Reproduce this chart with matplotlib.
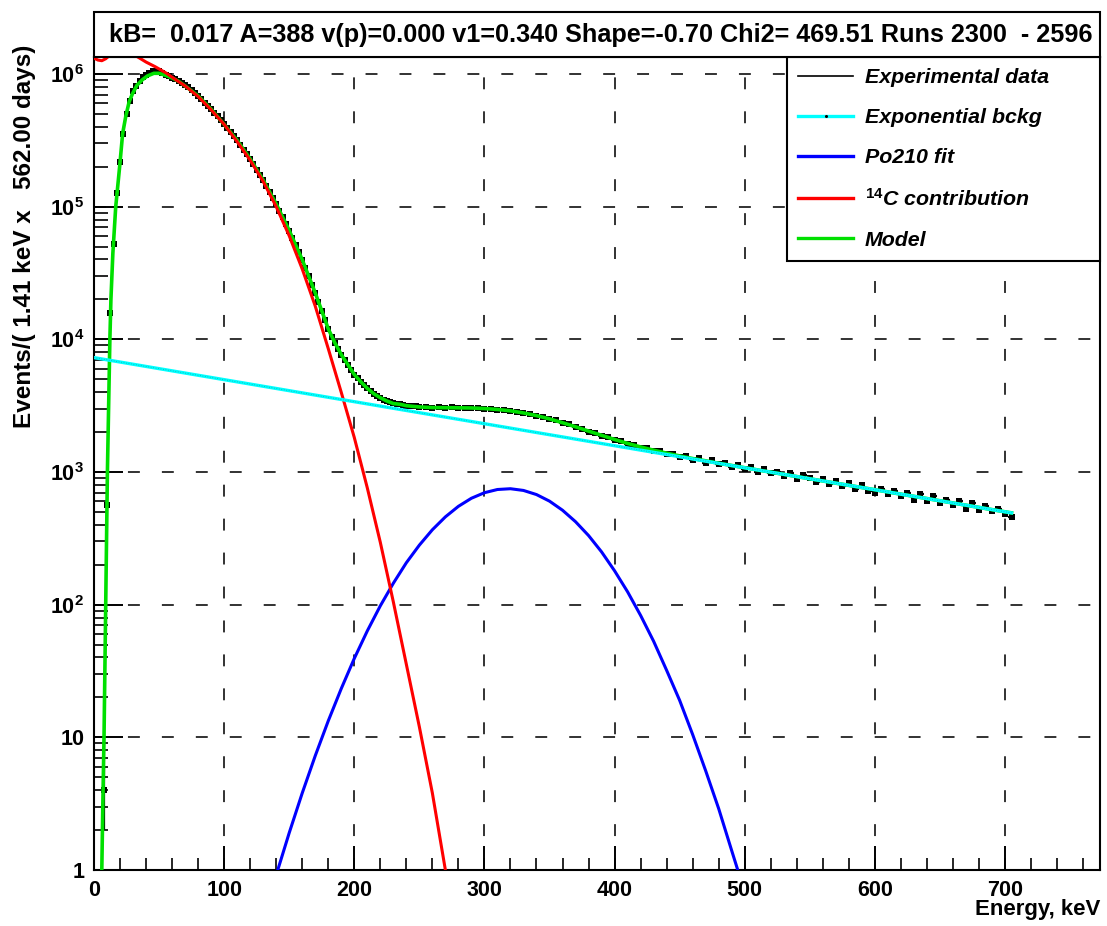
"""
c14_spectrum.py - energy spectrum with the 14C / Po210 / background fit components.
"""

import numpy as np
import matplotlib
matplotlib.use("Agg")
import matplotlib.pyplot as plt
from matplotlib import font_manager
from matplotlib.lines import Line2D
from matplotlib.patches import Rectangle
from matplotlib.ticker import MultipleLocator, LogLocator, NullFormatter


# ─── Data ─────────────────────────────────────────────────────────────────────

# experimental spectrum: fine bins up to 250 keV, coarser bins above
DATA_E_LOW = np.arange(7.5, 250.01, 2.5)
DATA_N_LOW = [
    4, 562, 15850, 52480, 125900, 218800, 354800, 501200, 631000, 741300,
    812800, 891300, 944100, 988600, 1023300, 1047100, 1059300, 1047100, 1023300, 988600,
    966100, 933300, 912000, 881000, 851100, 822400, 794300, 758600, 724400, 683900,
    645700, 609500, 575400, 543300, 507000, 478600, 446700, 416900, 389000, 363100,
    338800, 316200, 291700, 269200, 248300, 229100, 208900, 190500, 173800, 158500,
    142900, 128800, 116100, 104700, 93300, 83200, 74100, 66100, 58200, 51300,
    45200, 39800, 34700, 29900, 25700, 22400, 19050, 16400, 13960, 12020,
    10470, 9440, 8510, 7670, 7000, 6460, 5890, 5430, 5070, 4790,
    4520, 4270, 4070, 3890, 3760, 3630, 3510, 3430, 3370, 3310,
    3270, 3240, 3200, 3160, 3160, 3140, 3130, 3110,
]
DATA_E_HIGH = np.arange(255, 705.01, 5)
DATA_N_HIGH = [
    3085, 3045, 3070, 3030, 3065, 3025, 3050, 3015, 3035, 2990,
    2995, 2945, 2945, 2870, 2850, 2775, 2735, 2650, 2595, 2495,
    2445, 2335, 2285, 2175, 2125, 2015, 1980, 1870, 1845, 1740,
    1715, 1625, 1605, 1525, 1510, 1440, 1430, 1370, 1365, 1300,
    1320, 1235, 1270, 1175, 1225, 1140, 1165, 1085, 1135, 1050,
    1090, 1000, 1055, 975, 1005, 930, 980, 885, 950, 905,
    840, 880, 810, 855, 780, 825, 750, 800, 715, 690,
    750, 685, 720, 655, 700, 615, 680, 600, 655, 580,
    620, 565, 605, 530, 585, 520, 550, 505, 525, 480,
    455,
]

# exponential background
BKG_E = [0, 100, 200, 300, 400, 500, 600, 700, 705]
BKG_Y = [7280, 4966, 3388, 2312, 1578, 1076, 735, 501, 492]

# Po210 peak
PO_E = list(range(140, 501, 10))
PO_Y = [
    0.916, 1.905, 3.80, 7.26, 13.3, 23.3, 39.3, 63.4, 98.0, 145,
    207, 281, 367, 459, 551, 634, 698, 738, 748, 726,
    676, 603, 515, 422, 332, 250, 180, 125, 83, 53,
    32, 19, 10.5, 5.6, 2.9, 1.4, 0.68,
]

# 14C contribution
C14_E = [0, 3, 6, 9, 12, 16, 20, 25, 30, 35, 40, 47, 55, 63, 70, 80, 90, 100,
         110, 120, 130, 140, 150, 160, 170, 180, 190, 200, 210, 220, 230, 240,
         250, 260, 270, 276]
C14_Y = [1.318e6, 1.274e6, 1.259e6, 1.303e6, 1.380e6, 1.514e6, 1.585e6, 1.549e6,
         1.413e6, 1.318e6, 1.230e6, 1.135e6, 1.023e6, 9.02e5, 8.13e5, 6.76e5,
         5.37e5, 4.17e5, 3.09e5, 2.24e5, 1.55e5, 1.00e5, 6.03e4, 3.39e4, 1.78e4,
         8.51e3, 3.98e3, 1.82e3, 759, 295, 105, 35.5, 12.0, 3.80, 1.0, 0.45]

# full model
MODEL_E = [5.6, 6.0, 6.8, 7.7, 9.0, 10.3, 12.2, 13.0, 14.5, 16.7,
           19.7, 22, 24.4, 27, 29.5, 33, 37, 41, 46, 50,
           55, 60, 65, 70, 80, 90, 100, 110, 120, 130,
           140, 150, 160, 170, 180, 185, 190, 195, 200, 205,
           210, 215, 220, 225, 230, 235, 240, 250, 260, 270,
           280, 290, 300, 310, 320, 330, 340, 350, 360, 370,
           380, 390, 400, 410, 420, 430, 440, 450, 460, 470,
           480, 500, 550, 600, 650, 700, 705]
MODEL_Y = [0.6, 1.0, 3.2, 10, 100, 1000, 1.0e4, 2.0e4, 4.47e4, 1.0e5,
           2.0e5, 3.55e5, 4.79e5, 6.17e5, 7.08e5, 8.22e5, 9.02e5, 9.66e5, 1.012e6, 1.012e6,
           9.77e5, 9.33e5, 8.81e5, 8.13e5, 6.84e5, 5.43e5, 4.17e5, 3.16e5, 2.29e5, 1.585e5,
           1.047e5, 6.61e4, 3.98e4, 2.24e4, 1.20e4, 9440, 7670, 6460, 5430, 4790,
           4270, 3890, 3630, 3430, 3280, 3240, 3160, 3092, 3059, 3053,
           3046, 3038, 3010, 2961, 2891, 2787, 2662, 2513, 2352, 2192,
           2034, 1891, 1758, 1642, 1545, 1459, 1387, 1322, 1263, 1214,
           1164, 1077, 889, 735, 607, 501, 492]

X_TICKS = [0, 100, 200, 300, 400, 500, 600, 700]
Y_TICKS = [1, 10, 1e2, 1e3, 1e4, 1e5, 1e6]
Y_TICK_LABELS = ["1", "10"] + [r"$\mathbf{10^{%d}}$" % k for k in range(2, 7)]

LEGEND_LABELS = ["Experimental data", "Exponential bckg", "Po210 fit",
                 r"$^{\mathit{14}}$C contribution", "Model"]

TITLE = "kB=  0.017 A=388 v(p)=0.000 v1=0.340 Shape=-0.70 Chi2= 469.51 Runs 2300  - 2596"
Y_LABEL = "Events/( 1.41 keV x   562.00 days)"
X_LABEL = "Energy, keV"


# ─── Style ────────────────────────────────────────────────────────────────────

W, H, DPI = 1107, 926, 100
AX_L, AX_R, AX_T, AX_B = 94, 1100, 57, 870      # frame, in pixels
X_MAX, Y_MIN, Y_MAX = 773, 1, 1.343e6

RED, GREEN, BLUE, CYAN = "#ff0000", "#00e000", "#0000ff", "#00ffff"

_names = {f.name for f in font_manager.fontManager.ttflist}
WIDE = "Liberation Sans"
NARROW = "Liberation Sans Narrow" if "Liberation Sans Narrow" in _names else WIDE

plt.rcParams["font.family"] = [WIDE, "DejaVu Sans"]
plt.rcParams["mathtext.fontset"] = "custom"
plt.rcParams["mathtext.bf"] = f"{NARROW}:weight=bold"
plt.rcParams["mathtext.rm"] = f"{NARROW}:weight=bold"
plt.rcParams["mathtext.it"] = f"{WIDE}:style=italic:weight=bold"


def px_x(p):
    return p / W


def px_y(p):
    return 1 - p / H


# ─── Figure ───────────────────────────────────────────────────────────────────

fig = plt.figure(figsize=(W / DPI, H / DPI), dpi=DPI)
ax = fig.add_axes([px_x(AX_L), px_y(AX_B), (AX_R - AX_L) / W, (AX_B - AX_T) / H])

ax.set_yscale("log")
ax.set_xlim(0, X_MAX)
ax.set_ylim(Y_MIN, Y_MAX)

# data points with bin-width horizontal bars
for e, n, half in ((DATA_E_LOW, DATA_N_LOW, 1.25), (DATA_E_HIGH, DATA_N_HIGH, 2.5)):
    n = np.asarray(n, dtype=float)
    ax.errorbar(e, n, xerr=half, yerr=np.sqrt(n), fmt="s", ms=4.8, mew=0,
                color="black", ecolor="black", elinewidth=1.6, capsize=0, zorder=2)

ax.plot(MODEL_E, MODEL_Y, color=GREEN, lw=2.6, zorder=3)
ax.plot(PO_E, PO_Y, color=BLUE, lw=2.2, zorder=4)
ax.plot(C14_E, C14_Y, color=RED, lw=2.2, zorder=4)
ax.plot(BKG_E, BKG_Y, color=CYAN, lw=2.4, zorder=4)
ax.plot(BKG_E, BKG_Y, color="#1d8c8c", lw=0.6, ls=(0, (1, 2)), alpha=0.7, zorder=4)

# axes, ticks, grid
ax.set_xticks(X_TICKS)
ax.set_xticklabels([str(v) for v in X_TICKS], fontfamily=NARROW,
                   fontweight="bold", fontsize=15.5)
ax.xaxis.set_minor_locator(MultipleLocator(20))
ax.set_yticks(Y_TICKS)
ax.set_yticklabels(Y_TICK_LABELS, fontfamily=NARROW, fontweight="bold", fontsize=15.5)
ax.yaxis.set_minor_locator(LogLocator(base=10, subs=np.arange(2, 10)))
ax.yaxis.set_minor_formatter(NullFormatter())

ax.tick_params(axis="x", which="major", direction="in", length=17, width=1.4,
               pad=7, top=False)
ax.tick_params(axis="x", which="minor", direction="in", length=8.5, width=1.2, top=False)
ax.tick_params(axis="y", which="major", direction="in", length=21, width=1.4,
               pad=7, right=False)
ax.tick_params(axis="y", which="minor", direction="in", length=10, width=1.2, right=False)

ax.grid(True, which="major", color="#222222", lw=1.3, ls=(0, (6.6, 12.2)))
ax.set_axisbelow(True)
for sp in ax.spines.values():
    sp.set_linewidth(1.5)

# legend
handles = [
    Line2D([], [], color="black", lw=1.2),
    Line2D([], [], color=CYAN, lw=2.4, marker="o", ms=1.2, mfc="black", mec="black"),
    Line2D([], [], color=BLUE, lw=2.4),
    Line2D([], [], color=RED, lw=2.4),
    Line2D([], [], color=GREEN, lw=2.4),
]
x0 = (787 - AX_L) / (AX_R - AX_L)
leg = ax.legend(handles, LEGEND_LABELS, loc="upper left",
                bbox_to_anchor=(x0, 0, 1 - x0, 1), mode="expand",
                borderaxespad=0, borderpad=0.52, labelspacing=0.98,
                handlelength=2.57, handletextpad=0.56, numpoints=1,
                fancybox=False, framealpha=1, edgecolor="black",
                prop=dict(family=WIDE, weight="bold", style="italic", size=15.4))
leg.get_frame().set_linewidth(1.5)

# title box
fig.patches.append(Rectangle((px_x(AX_L), px_y(AX_T)), (AX_R - AX_L) / W, 45 / H,
                             transform=fig.transFigure, facecolor="white",
                             edgecolor="black", lw=1.5, zorder=5))
title = fig.text(px_x(601), px_y(35), TITLE, ha="center", va="center",
                 fontfamily=NARROW, fontweight="bold", fontsize=18, zorder=6)

fig.text(px_x(25), px_y(45), Y_LABEL, rotation=90, ha="center", va="top",
         fontweight="bold", fontsize=17.5)
fig.text(px_x(1100), px_y(910), X_LABEL, ha="right", va="center",
         fontweight="bold", fontsize=16)

# squeeze the title into the box width
fig.canvas.draw()
tw = title.get_window_extent().width
title.set_fontsize(title.get_fontsize() * 985 / tw)

fig.savefig("out.png", dpi=DPI)
plt.close(fig)
